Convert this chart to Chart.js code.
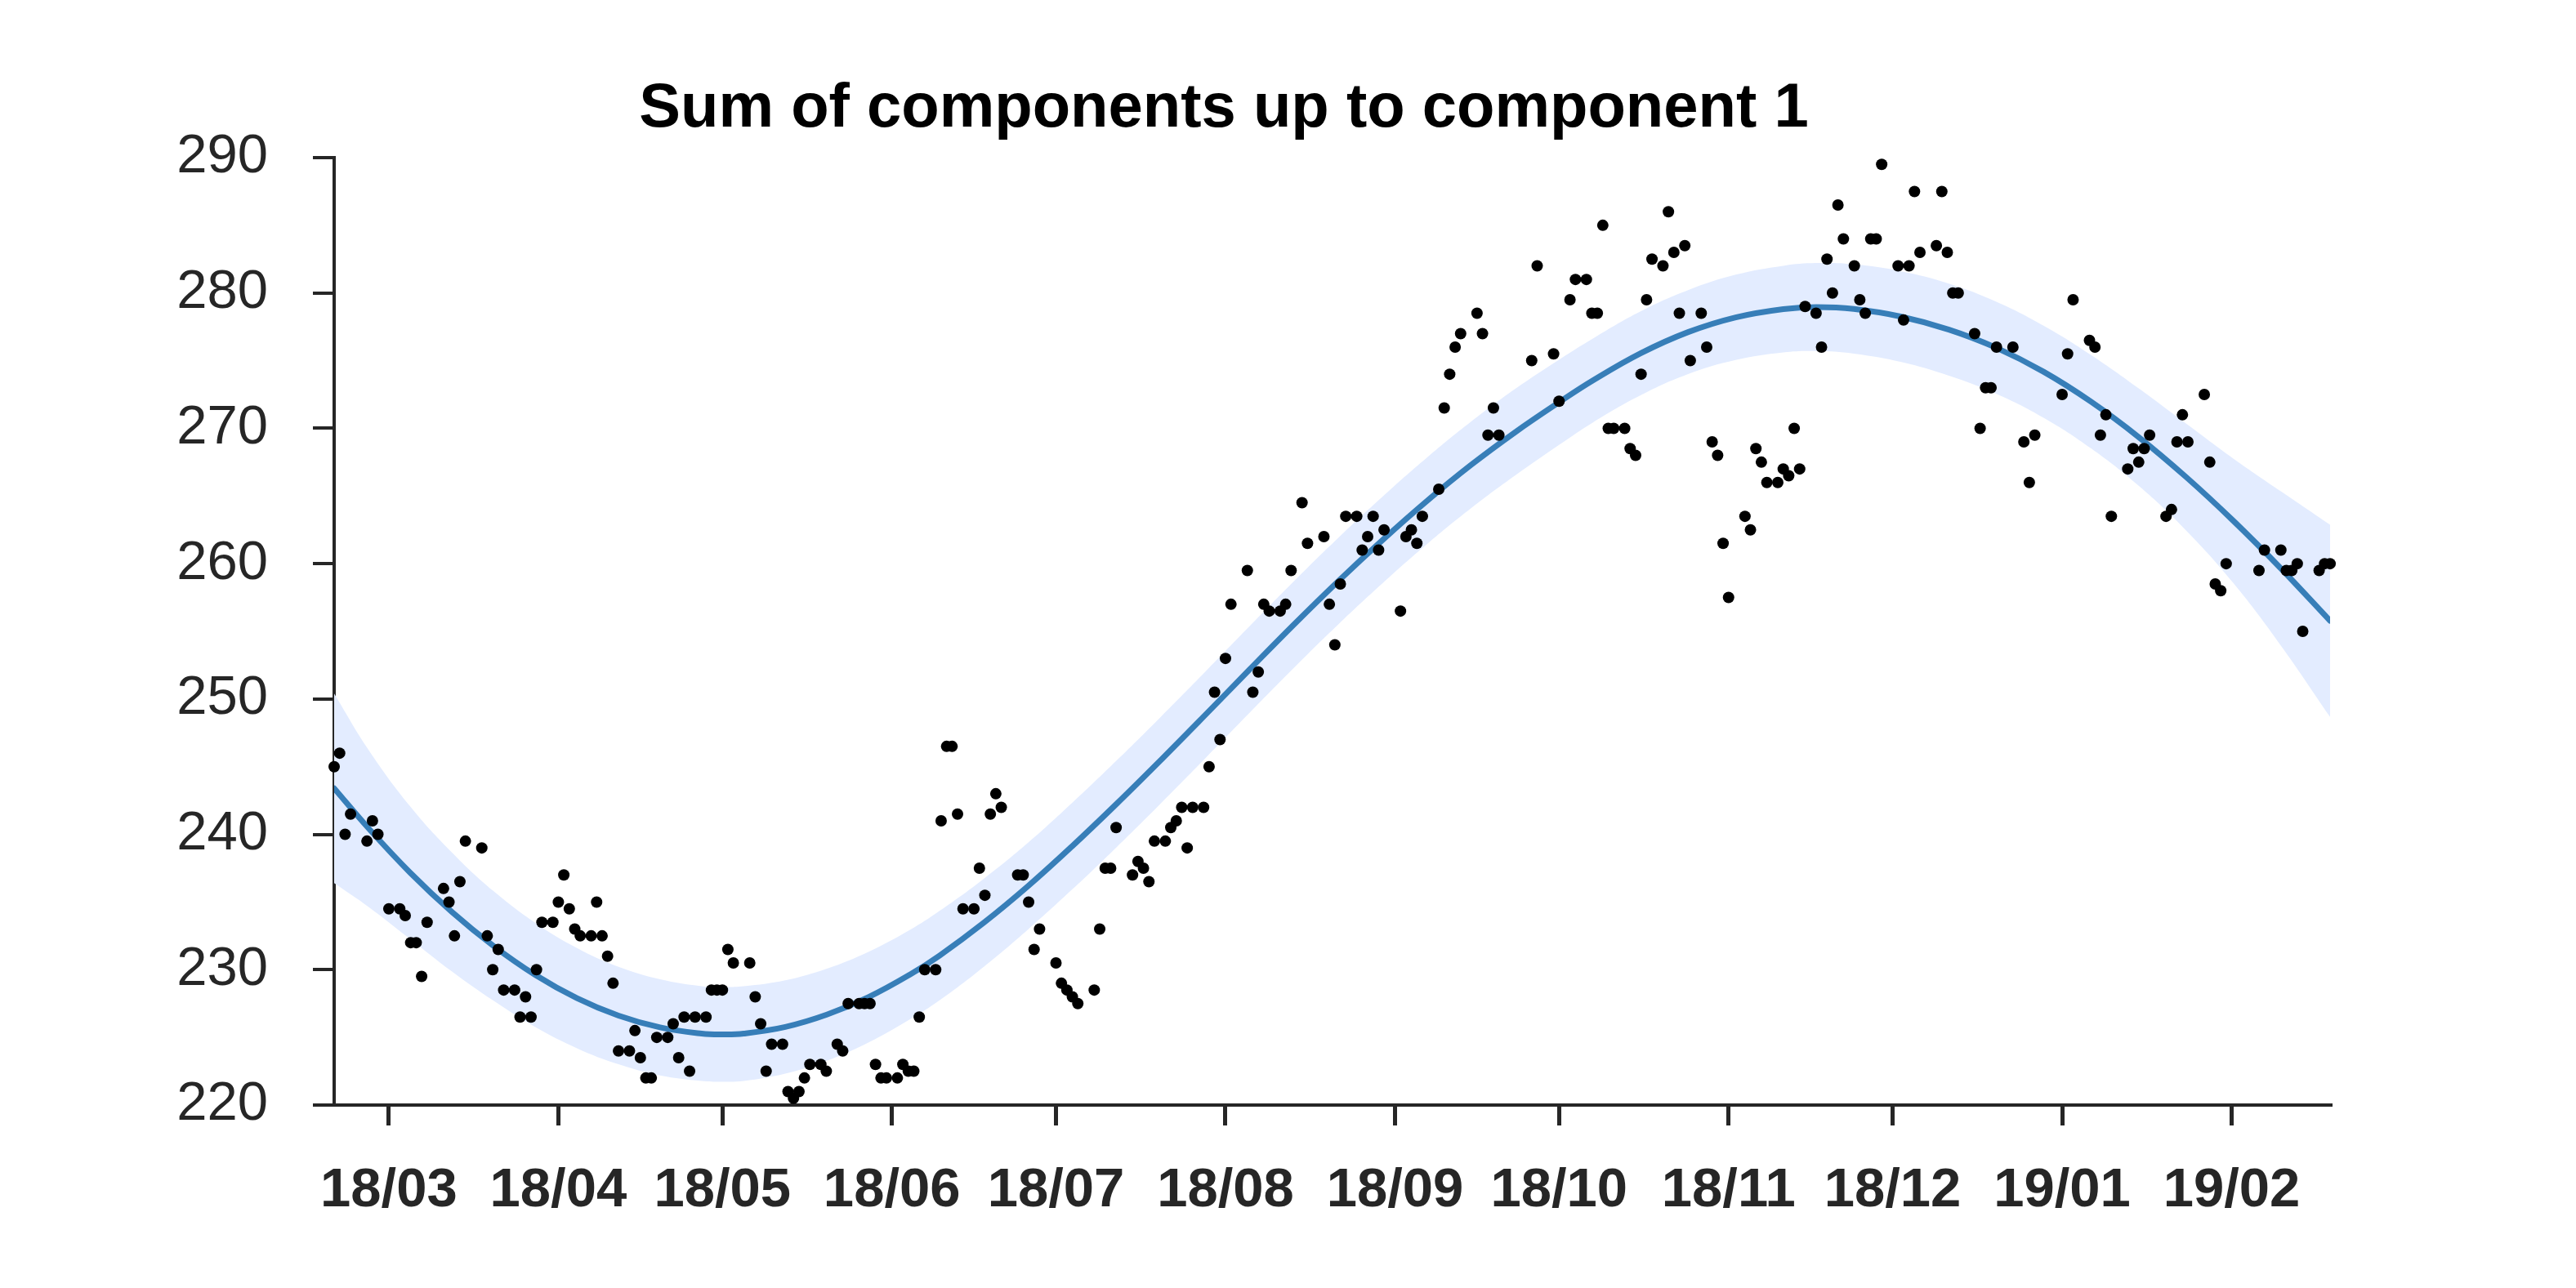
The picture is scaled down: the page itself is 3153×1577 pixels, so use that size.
<!DOCTYPE html>
<html lang="en">
<head>
    <meta charset="UTF-8">
    <title>Sum of components up to component 1</title>
    <script src="https://cdn.jsdelivr.net/npm/chart.js"></script>
    <style>
        html, body { margin: 0; padding: 0; background: #ffffff; }
        #chart-container { width: 3153px; height: 1577px; }
    </style>
</head>
<body>
<div id="chart-container">
    <canvas id="component-chart" width="3153" height="1577"></canvas>
</div>
<script>
    // x values are days counted from 2018-03-01 (day 0)
    const titleText = 'Sum of components up to component 1';

    const monthTickDays = [0, 31, 61, 92, 122, 153, 184, 214, 245, 275, 306, 337];
    const monthTickLabels = ['18/03', '18/04', '18/05', '18/06', '18/07', '18/08',
                             '18/09', '18/10', '18/11', '18/12', '19/01', '19/02'];
    const yTicks = [220, 230, 240, 250, 260, 270, 280, 290];

    // observed values (black dots)
    const obsDays = [-10, -9, -8, -7, -4, -3, -2, 0, 2, 3, 4, 5, 6, 7, 10, 11, 12, 13, 14, 17,
        18, 19, 20, 21, 23, 24, 25, 26, 27, 28, 30, 31, 32, 33, 34, 35, 37, 38, 39, 40,
        41, 42, 44, 45, 46, 47, 48, 49, 51, 52, 53, 54, 55, 56, 58, 59, 60, 61, 62, 63,
        66, 67, 68, 69, 70, 72, 73, 74, 75, 76, 77, 79, 80, 82, 83, 84, 86, 87, 88, 89,
        90, 91, 93, 94, 95, 96, 97, 98, 100, 101, 102, 103, 104, 105, 107, 108, 109, 110, 111, 112,
        115, 116, 117, 118, 119, 122, 123, 124, 125, 126, 129, 130, 131, 132, 133, 136, 137, 138, 139, 140,
        142, 143, 144, 145, 146, 147, 149, 150, 151, 152, 153, 154, 157, 158, 159, 160, 161, 163, 164, 165,
        167, 168, 171, 172, 173, 174, 175, 177, 178, 179, 180, 181, 182, 185, 186, 187, 188, 189, 192, 193,
        194, 195, 196, 199, 200, 201, 202, 203, 209, 210, 213, 214, 216, 217, 219, 220, 221, 222, 223, 224,
        226, 227, 228, 229, 230, 231, 233, 234, 235, 236, 237, 238, 240, 241, 242, 243, 244, 245, 248, 249,
        250, 251, 252, 254, 255, 256, 257, 258, 259, 261, 262, 263, 264, 265, 266, 268, 269, 270, 271, 272,
        273, 276, 277, 278, 279, 280, 283, 284, 285, 286, 287, 290, 291, 292, 293, 294, 297, 299, 300, 301,
        306, 307, 308, 311, 312, 313, 314, 315, 318, 319, 320, 321, 322, 325, 326, 327, 328, 329, 332, 333,
        334, 335, 336, 342, 343, 346, 347, 348, 349, 350, 353, 354, 355];
    const obsValues = [245.0, 246.0, 240.0, 241.5, 239.5, 241.0, 240.0, 234.5, 234.5, 234.0, 232.0, 232.0, 229.5, 233.5, 236.0, 235.0, 232.5, 236.5, 239.5, 239.0,
        232.5, 230.0, 231.5, 228.5, 228.5, 226.5, 228.0, 226.5, 230.0, 233.5, 233.5, 235.0, 237.0, 234.5, 233.0, 232.5, 232.5, 235.0, 232.5, 231.0,
        229.0, 224.0, 224.0, 225.5, 223.5, 222.0, 222.0, 225.0, 225.0, 226.0, 223.5, 226.5, 222.5, 226.5, 226.5, 228.5, 228.5, 228.5, 231.5, 230.5,
        230.5, 228.0, 226.0, 222.5, 224.5, 224.5, 221.0, 220.5, 221.0, 222.0, 223.0, 223.0, 222.5, 224.5, 224.0, 227.5, 227.5, 227.5, 227.5, 223.0,
        222.0, 222.0, 222.0, 223.0, 222.5, 222.5, 226.5, 230.0, 230.0, 241.0, 246.5, 246.5, 241.5, 234.5, 234.5, 237.5, 235.5, 241.5, 243.0, 242.0,
        237.0, 237.0, 235.0, 231.5, 233.0, 230.5, 229.0, 228.5, 228.0, 227.5, 228.5, 233.0, 237.5, 237.5, 240.5, 237.0, 238.0, 237.5, 236.5, 239.5,
        239.5, 240.5, 241.0, 242.0, 239.0, 242.0, 242.0, 245.0, 250.5, 247.0, 253.0, 257.0, 259.5, 250.5, 252.0, 257.0, 256.5, 256.5, 257.0, 259.5,
        264.5, 261.5, 262.0, 257.0, 254.0, 258.5, 263.5, 263.5, 261.0, 262.0, 263.5, 261.0, 262.5, 256.5, 262.0, 262.5, 261.5, 263.5, 265.5, 271.5,
        274.0, 276.0, 277.0, 278.5, 277.0, 269.5, 271.5, 269.5, 275.0, 282.0, 275.5, 272.0, 279.5, 281.0, 281.0, 278.5, 278.5, 285.0, 270.0, 270.0,
        270.0, 268.5, 268.0, 274.0, 279.5, 282.5, 282.0, 286.0, 283.0, 278.5, 283.5, 275.0, 278.5, 276.0, 269.0, 268.0, 261.5, 257.5, 263.5, 262.5,
        268.5, 267.5, 266.0, 266.0, 267.0, 266.5, 270.0, 267.0, 279.0, 278.5, 276.0, 282.5, 280.0, 286.5, 284.0, 282.0, 279.5, 278.5, 284.0, 284.0,
        289.5, 282.0, 278.0, 282.0, 287.5, 283.0, 283.5, 287.5, 283.0, 280.0, 280.0, 277.0, 270.0, 273.0, 273.0, 276.0, 276.0, 269.0, 266.0, 269.5,
        272.5, 275.5, 279.5, 276.5, 276.0, 269.5, 271.0, 263.5, 267.0, 268.5, 267.5, 268.5, 269.5, 263.5, 264.0, 269.0, 271.0, 269.0, 272.5, 267.5,
        258.5, 258.0, 260.0, 259.5, 261.0, 261.0, 259.5, 259.5, 260.0, 255.0, 259.5, 260.0, 260.0];

    // fitted component (blue line) and its band
    const fitDays = [-10, -3.7, 3.9, 11.5, 19.1, 26.8, 34.4, 42, 49.6, 57.2,
        61, 64.9, 72.5, 80.1, 87.7, 95.3, 100.7, 108.8, 116.9, 125,
        133.1, 141.2, 149.3, 157.4, 165.5, 173.6, 181.7, 189.8, 197.9, 206,
        214.1, 220.2, 228.9, 237.6, 246.3, 255, 261, 267.9, 276.6, 285.3,
        293.9, 302.6, 311.3, 320, 328.7, 337.3, 346, 355];
    const fitValues = [243.40, 240.44, 237.17, 234.28, 231.77, 229.61, 227.90, 226.61, 225.74, 225.28,
        225.22, 225.28, 225.77, 226.68, 227.97, 229.64, 231.04, 233.47, 236.18, 239.14,
        242.26, 245.50, 248.82, 252.18, 255.50, 258.70, 261.74, 264.62, 267.29, 269.72,
        271.95, 273.54, 275.54, 277.11, 278.20, 278.81, 278.96, 278.82, 278.25, 277.29,
        275.96, 274.18, 271.96, 269.35, 266.39, 263.17, 259.65, 255.78];
    const fitUpper = [250.40, 246.24, 242.07, 238.68, 235.82, 233.46, 231.60, 230.21, 229.29, 228.78,
        228.72, 228.78, 229.22, 230.08, 231.32, 232.94, 234.34, 236.72, 239.38, 242.34,
        245.46, 248.70, 252.02, 255.38, 258.70, 261.90, 264.94, 267.82, 270.49, 272.92,
        275.10, 276.64, 278.64, 280.21, 281.35, 282.01, 282.21, 282.12, 281.60, 280.69,
        279.36, 277.58, 275.41, 272.95, 270.34, 267.77, 265.35, 262.88];
    const fitLower = [236.40, 234.64, 232.27, 229.88, 227.72, 225.76, 224.20, 223.01, 222.19, 221.78,
        221.72, 221.78, 222.32, 223.28, 224.62, 226.34, 227.74, 230.22, 232.98, 235.94,
        239.06, 242.30, 245.62, 248.98, 252.30, 255.50, 258.54, 261.42, 264.09, 266.52,
        268.80, 270.44, 272.44, 274.01, 275.05, 275.61, 275.71, 275.52, 274.90, 273.89,
        272.56, 270.78, 268.51, 265.75, 262.44, 258.57, 253.95, 248.68];

    const axisColor = '#262626';
    const lineColor = '#377eb8';
    const bandColor = 'rgb(227, 236, 255)';
    const fontFamily = '"Liberation Sans", Arial, Helvetica, sans-serif';

    function toPoints(xs, ys) {
        return xs.map((x, i) => ({ x: x, y: ys[i] }));
    }

    // title is not centred on the plot area, so draw it ourselves
    const titlePlugin = {
        id: 'plotTitle',
        afterDraw(chart) {
            const ctx = chart.ctx;
            ctx.save();
            ctx.font = 'bold 76px ' + fontFamily;
            ctx.fillStyle = '#000000';
            ctx.textAlign = 'center';
            ctx.textBaseline = 'alphabetic';
            ctx.fillText(titleText, 1498, 155);
            ctx.restore();
        }
    };

    const ctx = document.getElementById('component-chart').getContext('2d');
    new Chart(ctx, {
        type: 'scatter',
        data: {
            datasets: [
                {
                    type: 'scatter',
                    label: 'observed',
                    data: toPoints(obsDays, obsValues),
                    pointRadius: 7,
                    pointBackgroundColor: '#000000',
                    pointBorderColor: '#000000',
                    pointBorderWidth: 0,
                    clip: false,
                    order: 0
                },
                {
                    type: 'line',
                    label: 'component 1',
                    data: toPoints(fitDays, fitValues),
                    borderColor: lineColor,
                    borderWidth: 7,
                    borderCapStyle: 'round',
                    pointRadius: 0,
                    tension: 0.4,
                    fill: false,
                    order: 1
                },
                {
                    type: 'line',
                    label: 'upper',
                    data: toPoints(fitDays, fitUpper),
                    borderWidth: 0,
                    borderColor: 'rgba(0,0,0,0)',
                    backgroundColor: bandColor,
                    pointRadius: 0,
                    tension: 0.4,
                    fill: '+1',
                    order: 2
                },
                {
                    type: 'line',
                    label: 'lower',
                    data: toPoints(fitDays, fitLower),
                    borderWidth: 0,
                    borderColor: 'rgba(0,0,0,0)',
                    pointRadius: 0,
                    tension: 0.4,
                    fill: false,
                    order: 3
                }
            ]
        },
        options: {
            responsive: false,
            devicePixelRatio: 1,
            animation: false,
            layout: { padding: { left: 0, right: 301, top: 193, bottom: 0 } },
            plugins: {
                legend: { display: false },
                title: { display: false },
                tooltip: { enabled: false }
            },
            scales: {
                x: {
                    type: 'linear',
                    min: -10,
                    max: 355,
                    afterBuildTicks: (axis) => { axis.ticks = monthTickDays.map(v => ({ value: v })); },
                    afterFit: (axis) => { axis.height = 224; },
                    ticks: {
                        callback: (value, index) => monthTickLabels[index],
                        autoSkip: false,
                        maxRotation: 0,
                        padding: 40,
                        color: axisColor,
                        font: { family: fontFamily, size: 67, weight: 'bold' }
                    },
                    grid: { drawOnChartArea: false, drawTicks: true, tickLength: 25, lineWidth: 5, color: axisColor },
                    border: { display: true, color: axisColor, width: 4 }
                },
                y: {
                    min: 220,
                    max: 290,
                    afterBuildTicks: (axis) => { axis.ticks = yTicks.map(v => ({ value: v })); },
                    afterFit: (axis) => { axis.width = 409; },
                    ticks: {
                        padding: 55,
                        color: axisColor,
                        font: { family: fontFamily, size: 67 }
                    },
                    grid: { drawOnChartArea: false, drawTicks: true, tickLength: 26, lineWidth: 4, color: axisColor },
                    border: { display: true, color: axisColor, width: 4 }
                }
            }
        },
        plugins: [titlePlugin]
    });
</script>
</body>
</html>
